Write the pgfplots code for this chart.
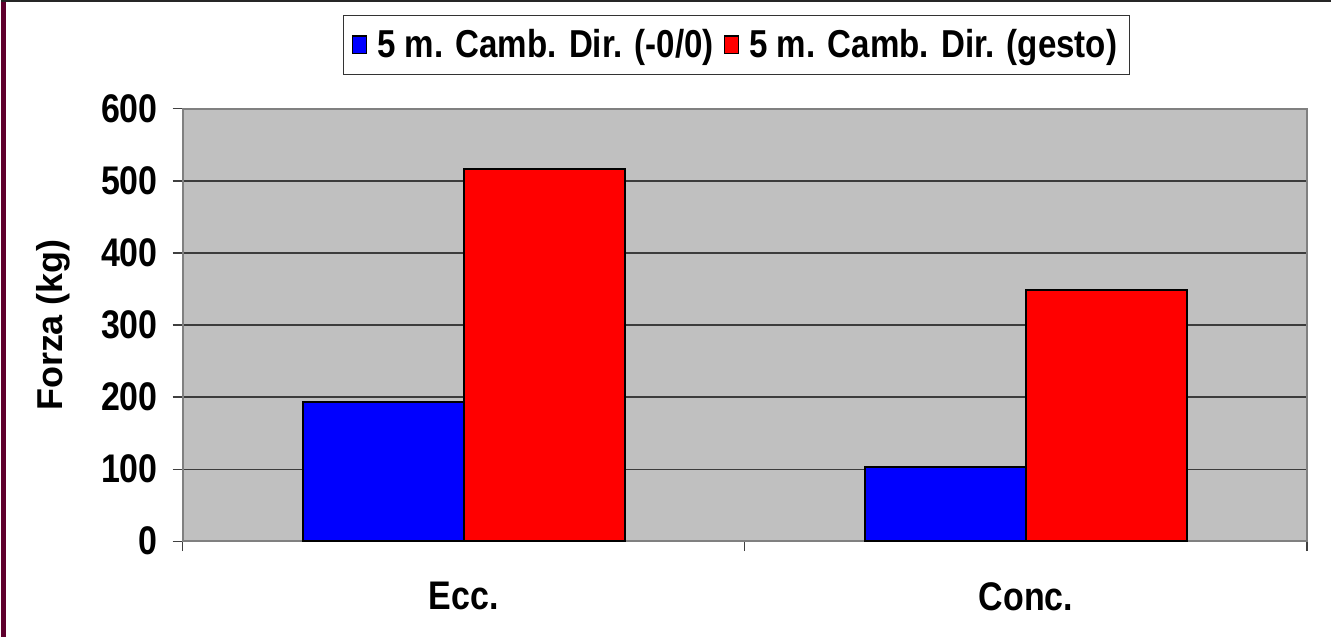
\documentclass[border=0pt]{standalone}
\usepackage{fontspec}
\usepackage{pgfplots}
\pgfplotsset{compat=1.18}
\setmainfont{Liberation Sans}
\newfontfamily\tickf[FakeStretch=0.85]{Liberation Sans}
\newfontfamily\legf[FakeStretch=0.85]{Liberation Sans}
\newfontfamily\ylabf{Liberation Sans}

\definecolor{plotgray}{RGB}{192,192,192}
\definecolor{framegray}{RGB}{128,128,128}
\definecolor{gridc}{RGB}{60,60,60}
\definecolor{barblue}{RGB}{0,0,255}
\definecolor{barred}{RGB}{255,0,0}
\definecolor{edgepurple}{RGB}{95,0,45}

\begin{document}
\begin{tikzpicture}
\begin{axis}[
    at={(0,0)}, anchor=south west,
    scale only axis,
    width=563pt, height=216.5pt,
    xmin=-0.5, xmax=1.5,
    ymin=0, ymax=600,
    xtick={-0.5,0.5,1.5},
    xticklabels={},
    extra x ticks={0,1},
    extra x tick labels={Ecc.,Conc.},
    extra x tick style={major tick length=0pt, grid=none},
    ytick={0,100,...,600},
    tick pos=left,
    tick align=outside,
    major tick length=5pt,
    tick style={black!75, line width=0.6pt},
    ymajorgrids=true,
    grid style={gridc, line width=0.6pt},
    axis line style={framegray, line width=1.2pt},
    x axis line style={black!75},
    axis background/.style={fill=plotgray},
    /pgf/number format/assume math mode=true,
    ticklabel style={font=\tickf\bfseries\fontsize{20}{22}\selectfont},
    xticklabel style={yshift=-17pt},
    yticklabel style={xshift=-4pt},
    ylabel={Forza (kg)},
    ylabel style={font=\ylabf\bfseries\fontsize{18}{20}\selectfont,
        at={(axis description cs:-0.1155,0.5)}, anchor=center},
    legend columns=2,
    legend style={at={(0.4925,1)}, anchor=south, yshift=17pt,
        draw=black!80, line width=0.6pt, inner xsep=4pt, inner ysep=5pt,
        font=\legf\bfseries\fontsize{19.5}{21}\selectfont,
        /tikz/every odd column/.append style={column sep=3pt},
        /tikz/every even column/.append style={column sep=3pt}},
]
\addplot[ybar, bar width=80.5pt, bar shift=-40.25pt, fill=barblue, draw=black, line width=1pt,
    legend image code/.code={\draw[fill=barblue, draw=black, line width=0.8pt] (0pt,-4.5pt) rectangle (7pt,4.5pt);}]
    coordinates {(0,193) (1,103)};
\addlegendentry{5 m. Camb. Dir. (-0/0)}
\addplot[ybar, bar width=80.5pt, bar shift=40.25pt, fill=barred, draw=black, line width=1pt,
    legend image code/.code={\draw[fill=barred, draw=black, line width=0.8pt] (0pt,-4.5pt) rectangle (7pt,4.5pt);}]
    coordinates {(0,517) (1,349)};
\addlegendentry{5 m. Camb. Dir. (gesto)}
\end{axis}
\fill[edgepurple] (-91pt,-48pt) rectangle (-88.5pt,271pt);
\draw[black!85, line width=1pt] (-91pt,270.5pt) -- (575pt,270.5pt);
\path[use as bounding box] (-91pt,-48pt) rectangle (575pt,271pt);
\end{tikzpicture}
\end{document}
